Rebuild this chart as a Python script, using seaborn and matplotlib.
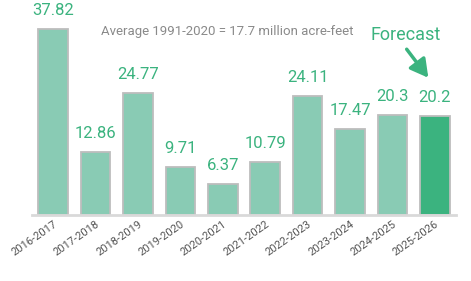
import matplotlib
matplotlib.use("Agg")
import matplotlib.pyplot as plt
import seaborn as sns
import pandas as pd

seasons = ["2016-2017", "2017-2018", "2018-2019", "2019-2020", "2020-2021",
           "2021-2022", "2022-2023", "2023-2024", "2024-2025", "2025-2026"]
volumes = [37.82, 12.86, 24.77, 9.71, 6.37, 10.79, 24.11, 17.47, 20.3, 20.2]
value_labels = ["37.82", "12.86", "24.77", "9.71", "6.37",
                "10.79", "24.11", "17.47", "20.3", "20.2"]
average_note = "Average 1991-2020 = 17.7 million acre-feet"

PAST = "#89cbb4"
FORECAST = "#3bb37f"
GREEN_TEXT = "#3bb37f"

sns.set_theme(style="white")
plt.rcParams["font.family"] = ["Roboto", "DejaVu Sans"]

df = pd.DataFrame({"season": seasons, "volume": volumes})
palette = {s: PAST for s in seasons}
palette[seasons[-1]] = FORECAST

fig = plt.figure(figsize=(4.71, 2.81), dpi=100)
ax = fig.add_axes([32 / 471, 1 - 215 / 281, 424 / 471, 215 / 281])

sns.barplot(data=df, x="season", y="volume", hue="season", palette=palette,
            width=0.7, edgecolor="#bdbdbd", linewidth=1.3, legend=False,
            saturation=1, ax=ax)

for i, (v, lab) in enumerate(zip(volumes, value_labels)):
    ax.annotate(lab, (i, v), xytext=(0, 8), textcoords="offset points",
                ha="center", va="bottom", fontsize=12, color=GREEN_TEXT)

ax.set_xlim(-0.5, 9.5)
ax.set_ylim(0, 43.7)
ax.set_xlabel("")
ax.set_ylabel("")
ax.set_yticks([])
for side in ["top", "right", "left"]:
    ax.spines[side].set_visible(False)
ax.spines["bottom"].set_color("#d9d9d9")
ax.spines["bottom"].set_linewidth(2)

ax.tick_params(axis="x", length=0, pad=3)
plt.setp(ax.get_xticklabels(), rotation=35, ha="right", rotation_mode="anchor",
         fontsize=8, color="#555555")

fig.text(101 / 471, 1 - 32 / 281, average_note, fontsize=9.5, color="#8a8a8a",
         ha="left", va="center")
fig.text(406 / 471, 1 - 35 / 281, "Forecast", fontsize=13, color=GREEN_TEXT,
         ha="center", va="center")
ax.annotate("", xy=(430 / 471, 1 - 80 / 281), xytext=(405 / 471, 1 - 47 / 281),
            xycoords="figure fraction", textcoords="figure fraction",
            arrowprops=dict(arrowstyle="-|>,head_length=0.9,head_width=0.5",
                            color=GREEN_TEXT, lw=2.5))

fig.savefig("out.png", dpi=100)
